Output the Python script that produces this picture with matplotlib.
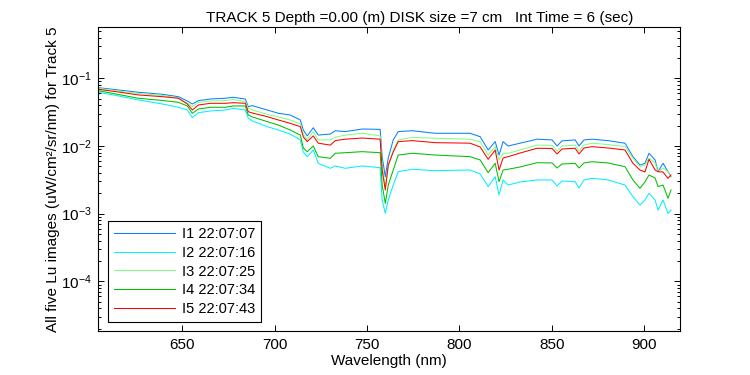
# -*- coding: utf-8 -*-
# Lu spectra for track 5, five images, log scale

import matplotlib
matplotlib.use("Agg")
import matplotlib.pyplot as plt
from matplotlib import font_manager
from matplotlib.ticker import FixedLocator, LogLocator, NullFormatter

WIDTH = 7.5
HIGH = 3.75

# wavelength (nm)
wavelength = [604.5, 615.4, 626.2, 639.2, 647.8, 652.7, 655.4, 658.7, 665.2, 673.3,
              677.6, 684.1, 685.7, 687.9, 696.0, 702.0, 708.4, 713.9, 715.5, 717.6,
              720.9, 723.6, 730.1, 732.8, 738.2, 747.4, 757.1, 758.2, 759.9, 761.5,
              764.2, 766.9, 774.5, 786.9, 805.8, 811.3, 815.6, 819.4, 821.5, 823.7,
              826.4, 832.9, 842.1, 850.2, 852.9, 855.6, 862.7, 864.8, 867.5, 871.9,
              880.5, 889.7, 894.0, 897.8, 900.5, 902.7, 906.0, 907.6, 910.3, 913.0,
              914.6]

lu_i1 = [0.0726, 0.0672, 0.0621, 0.0580, 0.0535, 0.0462, 0.0417, 0.0467, 0.0494, 0.0507,
         0.0524, 0.0494, 0.0381, 0.0394, 0.0340, 0.0304, 0.0287, 0.0242, 0.0172, 0.0141,
         0.0186, 0.0145, 0.0150, 0.0168, 0.0163, 0.0178, 0.0176, 0.00695, 0.00352, 0.00665,
         0.0123, 0.0163, 0.0168, 0.0154, 0.0154, 0.0137, 0.00873, 0.0116, 0.00736, 0.0116,
         0.0100, 0.0110, 0.0126, 0.0123, 0.0100, 0.0119, 0.0123, 0.0100, 0.0123, 0.0126,
         0.0120, 0.0110, 0.00695, 0.00524, 0.00555, 0.00780, 0.00621, 0.00417, 0.00555, 0.00417,
         0.00352]

lu_i2 = [0.0621, 0.0548, 0.0478, 0.0417, 0.0373, 0.0340, 0.0262, 0.0310, 0.0329, 0.0340,
         0.0360, 0.0340, 0.0257, 0.0234, 0.0193, 0.0172, 0.0150, 0.0123, 0.00815, 0.00695,
         0.00873, 0.00555, 0.00468, 0.00507, 0.00468, 0.00507, 0.00478, 0.00159, 0.00101, 0.00159,
         0.00265, 0.00417, 0.00453, 0.00432, 0.00442, 0.00386, 0.00251, 0.00352, 0.00189, 0.00315,
         0.00265, 0.00294, 0.00315, 0.00315, 0.00257, 0.00304, 0.00297, 0.00240, 0.00315, 0.00333,
         0.00315, 0.00265, 0.00178, 0.00134, 0.00159, 0.00200, 0.00159, 0.00113, 0.00159, 0.00101,
         0.00113]

lu_i3 = [0.0711, 0.0649, 0.0596, 0.0557, 0.0512, 0.0432, 0.0381, 0.0439, 0.0462, 0.0467,
         0.0486, 0.0451, 0.0364, 0.0340, 0.0294, 0.0268, 0.0242, 0.0211, 0.0150, 0.0123,
         0.0163, 0.0123, 0.0123, 0.0134, 0.0145, 0.0154, 0.0141, 0.00524, 0.00251, 0.00495,
         0.00873, 0.0123, 0.0134, 0.0130, 0.0126, 0.0115, 0.00736, 0.00977, 0.00621, 0.00780,
         0.00780, 0.00873, 0.0103, 0.0102, 0.00843, 0.0100, 0.0103, 0.00843, 0.0103, 0.0110,
         0.0105, 0.00977, 0.00658, 0.00495, 0.00524, 0.00658, 0.00561, 0.00417, 0.00473, 0.00417,
         0.00352]

lu_i4 = [0.0656, 0.0576, 0.0507, 0.0470, 0.0442, 0.0390, 0.0304, 0.0352, 0.0373, 0.0373,
         0.0390, 0.0390, 0.0287, 0.0268, 0.0229, 0.0204, 0.0172, 0.0145, 0.00934, 0.00824,
         0.0100, 0.00695, 0.00658, 0.00780, 0.00796, 0.00824, 0.00796, 0.00265, 0.00142, 0.00265,
         0.00442, 0.00736, 0.00780, 0.00736, 0.00695, 0.00621, 0.00403, 0.00555, 0.00297, 0.00442,
         0.00453, 0.00490, 0.00567, 0.00561, 0.00473, 0.00542, 0.00555, 0.00473, 0.00561, 0.00586,
         0.00561, 0.00495, 0.00315, 0.00237, 0.00294, 0.00373, 0.00337, 0.00251, 0.00265, 0.00169,
         0.00224]

lu_i5 = [0.0688, 0.0627, 0.0567, 0.0535, 0.0507, 0.0417, 0.0340, 0.0403, 0.0427, 0.0427,
         0.0436, 0.0427, 0.0321, 0.0307, 0.0271, 0.0242, 0.0216, 0.0193, 0.0136, 0.0116,
         0.0141, 0.0110, 0.0103, 0.0120, 0.0126, 0.0131, 0.0126, 0.00442, 0.00224, 0.00524,
         0.00815, 0.0116, 0.0120, 0.0112, 0.0110, 0.00966, 0.00636, 0.00873, 0.00442, 0.00665,
         0.00695, 0.00788, 0.00925, 0.00919, 0.00762, 0.00903, 0.00925, 0.00762, 0.00934, 0.00977,
         0.00934, 0.00873, 0.00555, 0.00442, 0.00413, 0.00636, 0.00442, 0.00417, 0.00413, 0.00333,
         0.00373]

image_names = ["I1", "I2", "I3", "I4", "I5"]
image_times = ["22:07:07", "22:07:16", "22:07:25", "22:07:34", "22:07:43"]
x_ticks = [650, 700, 750, 800, 850, 900]


def pick_font():
    installed = {f.name for f in font_manager.fontManager.ttflist}
    for fam in ["Liberation Sans Narrow", "Liberation Sans", "DejaVu Sans"]:
        if fam in installed:
            return fam
    return "DejaVu Sans"


def draw_save(save_path="out.png"):
    plt.rcParams['font.family'] = [pick_font(), 'DejaVu Sans']
    plt.rcParams['mathtext.default'] = 'regular'
    plt.rcParams['axes.unicode_minus'] = False

    fig = plt.figure(figsize=(WIDTH, HIGH), dpi=100)
    ax = fig.add_axes([0.1311, 0.1181, 0.7756, 0.8091])

    colors = ["#0a80ff", "#00f0ff", "#80ff80", "#00c000", "#ff0000"]
    series = [lu_i1, lu_i2, lu_i3, lu_i4, lu_i5]
    lines = []
    for lu, c, name, t in zip(series, colors, image_names, image_times):
        line, = ax.plot(wavelength, lu, color=c, lw=0.75, label="%s %s" % (name, t))
        lines.append(line)

    ax.set_yscale("log")
    ax.set_xlim(604.5, 919.5)
    ax.set_ylim(1.87e-5, 0.566)

    # x axis
    ax.xaxis.set_major_locator(FixedLocator(x_ticks))
    # y axis, decades with minor ticks
    ax.yaxis.set_major_locator(LogLocator(base=10, numticks=10))
    ax.yaxis.set_minor_locator(LogLocator(base=10, subs=range(2, 10), numticks=20))
    ax.yaxis.set_minor_formatter(NullFormatter())

    ax.tick_params(which='both', direction='in', top=True, right=True, labelsize=11, width=0.7)
    ax.tick_params(which='major', length=4.3, pad=5)
    ax.tick_params(which='minor', length=2.2)
    for sp in ax.spines.values():
        sp.set_linewidth(0.8)

    ax.set_xlabel("Wavelength (nm)", fontsize=11, labelpad=2)
    ax.set_ylabel("All five Lu images (uW/cm²/sr/nm) for Track 5", fontsize=11, labelpad=0.5)

    fig.text(0.56, 0.953, "TRACK 5 Depth =0.00 (m) DISK size =7 cm   Int Time = 6 (sec)",
             ha='center', va='center', fontsize=11)

    leg = ax.legend(handles=lines, loc='lower left', bbox_to_anchor=(0.0167, 0.0277),
                    borderaxespad=0, fontsize=10.5, handlelength=4.2, handletextpad=0.45,
                    labelspacing=0.33, borderpad=0.42, fancybox=False, framealpha=1)
    leg.get_frame().set_edgecolor('black')
    leg.get_frame().set_linewidth(0.8)

    fig.savefig(save_path, dpi=100, facecolor='white')


if __name__ == '__main__':
    draw_save()
